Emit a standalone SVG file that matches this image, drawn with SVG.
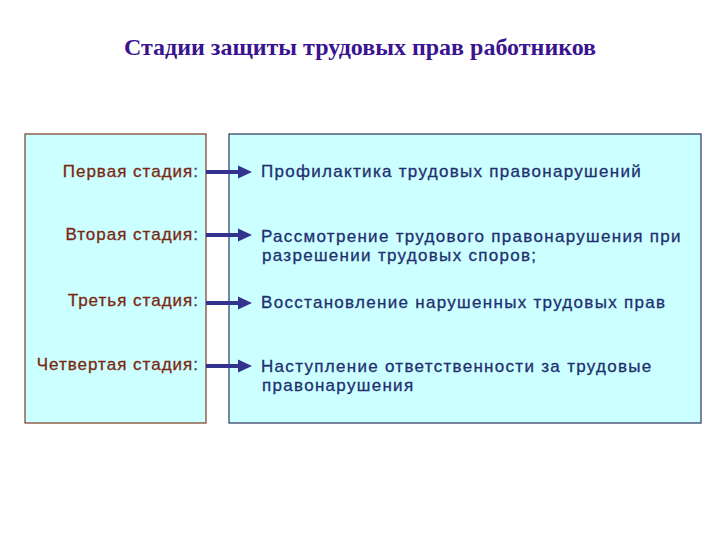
<svg xmlns="http://www.w3.org/2000/svg" width="720" height="540" viewBox="0 0 720 540">
<defs>
<style>
.title{font-family:"Liberation Serif","Times New Roman",serif;font-weight:bold;font-size:24px;fill:#3a1490}
.lab{font-family:"Liberation Sans",Arial,sans-serif;font-size:17px;fill:#7a2810;stroke:#7a2810;stroke-width:0.3;letter-spacing:1px;text-anchor:end}
.col{fill:#334466;stroke:#334466}
.txt{font-family:"Liberation Sans",Arial,sans-serif;font-size:17px;fill:#1f2f70;stroke:#1f2f70;stroke-width:0.3;letter-spacing:1.3px}
.box1{fill:#ccffff;stroke:#7a3a20;stroke-width:1.2}
.box2{fill:#ccffff;stroke:#2a3560;stroke-width:1.2}
.arr{stroke:#33338f;stroke-width:4;fill:none;marker-end:url(#ah)}
</style>
<marker id="ah" markerWidth="4" markerHeight="4" refX="0" refY="2" orient="auto" markerUnits="strokeWidth">
<path d="M0,0.4 L3.5,2 L0,3.6 Z" fill="#33338f"/>
</marker>
</defs>
<rect width="720" height="540" fill="#ffffff"/>
<text class="title" x="360" y="55" text-anchor="middle">Стадии защиты трудовых прав работников</text>
<g id="left-box"><rect class="box1" x="25" y="134" width="181" height="289"/></g>
<g id="right-box"><rect class="box2" x="229" y="134" width="472" height="289"/></g>
<g id="stage1"><text class="lab" x="199" y="177">Первая стадия<tspan class="col">:</tspan></text></g>
<g id="stage2"><text class="lab" x="199" y="240">Вторая стадия<tspan class="col">:</tspan></text></g>
<g id="stage3"><text class="lab" x="199" y="306">Третья стадия<tspan class="col">:</tspan></text></g>
<g id="stage4"><text class="lab" x="199" y="370">Четвертая стадия<tspan class="col">:</tspan></text></g>
<g id="desc1"><text class="txt" x="261" y="177">Профилактика трудовых правонарушений</text></g>
<g id="desc2"><text class="txt" x="261" y="242">Рассмотрение трудового правонарушения при<tspan x="262" y="261">разрешении трудовых споров;</tspan></text></g>
<g id="desc3"><text class="txt" x="261" y="308">Восстановление нарушенных трудовых прав</text></g>
<g id="desc4"><text class="txt" x="261" y="372">Наступление ответственности за трудовые<tspan x="262" y="391">правонарушения</tspan></text></g>
<g id="connectors">
<line class="arr" x1="206" y1="172" x2="238" y2="172"/>
<line class="arr" x1="206" y1="235" x2="238" y2="235"/>
<line class="arr" x1="206" y1="303" x2="238" y2="303"/>
<line class="arr" x1="206" y1="366" x2="238" y2="366"/>
</g>
</svg>
